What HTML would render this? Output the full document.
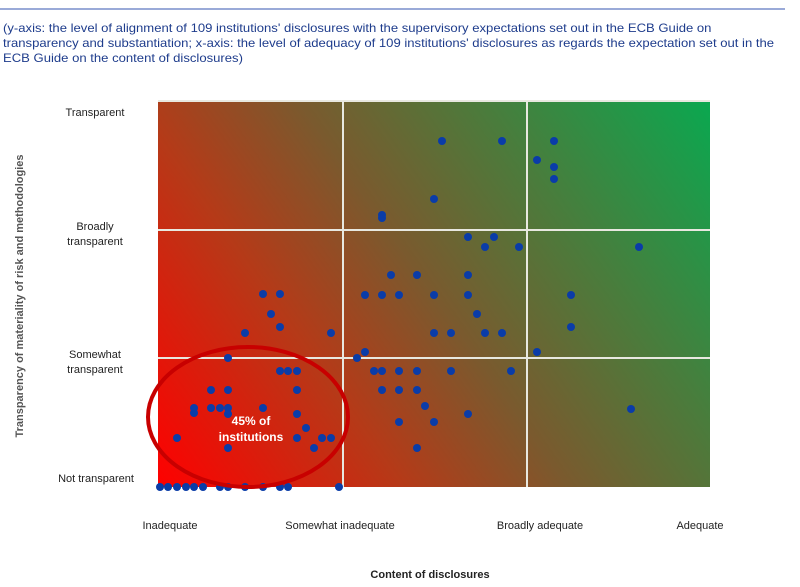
<!DOCTYPE html><html><head><style>
body{margin:0;width:800px;height:587px;background:#fff;font-family:"Liberation Sans",sans-serif;position:relative;overflow:hidden}
.t{position:absolute;font-size:11px;color:#222;text-align:center}
</style></head><body>
<div style="position:absolute;left:0;top:8px;width:785px;height:2px;background:#9aaad8"></div>
<div style="position:absolute;left:3px;top:21px;font-size:12px;line-height:15px;color:#1e3c8c;white-space:nowrap;transform:scaleX(1.09);transform-origin:0 0">(y-axis: the level of alignment of 109 institutions' disclosures with the supervisory expectations set out in the ECB Guide on<br>transparency and substantiation; x-axis: the level of adequacy of 109 institutions' disclosures as regards the expectation set out in the<br>ECB Guide on the content of disclosures)</div>
<div class="t" style="left:40px;top:107px;width:110px">Transparent</div>
<div class="t" style="left:40px;top:220px;width:110px;line-height:15px">Broadly<br>transparent</div>
<div class="t" style="left:40px;top:348px;width:110px;line-height:15px">Somewhat<br>transparent</div>
<div class="t" style="left:36px;top:473px;width:120px">Not transparent</div>
<div class="t" style="left:110px;top:520px;width:120px">Inadequate</div>
<div class="t" style="left:270px;top:520px;width:140px">Somewhat inadequate</div>
<div class="t" style="left:470px;top:520px;width:140px">Broadly adequate</div>
<div class="t" style="left:650px;top:520px;width:100px">Adequate</div>
<div class="t" style="left:330px;top:569px;width:200px;font-weight:bold">Content of disclosures</div>
<div style="position:absolute;left:-130px;top:290px;width:300px;transform:rotate(-90deg);font-size:11px;font-weight:bold;color:#555;text-align:center">Transparency of materiality of risk and methodologies</div>
<svg width="800" height="587" style="position:absolute;left:0;top:0">
<defs><linearGradient id="g" gradientUnits="userSpaceOnUse" x1="158" y1="487" x2="710" y2="100">
<stop offset="0" stop-color="#ff0000"/><stop offset="0.3" stop-color="#b53a18"/><stop offset="0.5" stop-color="#7a5a2e"/><stop offset="0.72" stop-color="#4a7c3c"/><stop offset="1" stop-color="#0aa850"/></linearGradient></defs>
<rect x="158" y="100" width="552" height="387" fill="url(#g)"/>
<g stroke="#e8e8e0" stroke-width="2"><line x1="158" y1="101" x2="710" y2="101"/><line x1="158" y1="230" x2="710" y2="230"/><line x1="158" y1="358" x2="710" y2="358"/><line x1="343" y1="100" x2="343" y2="487"/><line x1="527" y1="100" x2="527" y2="487"/></g>
<g fill="#0a3ca8">
<circle cx="442" cy="141" r="4"/><circle cx="502" cy="141" r="4"/><circle cx="554" cy="141" r="4"/><circle cx="537" cy="160" r="4"/><circle cx="554" cy="167" r="4"/><circle cx="554" cy="179" r="4"/><circle cx="434" cy="199" r="4"/><circle cx="382" cy="215" r="4"/><circle cx="382" cy="218" r="4"/>
<circle cx="468" cy="237" r="4"/><circle cx="494" cy="237" r="4"/><circle cx="485" cy="247" r="4"/><circle cx="519" cy="247" r="4"/><circle cx="639" cy="247" r="4"/>
<circle cx="391" cy="275" r="4"/><circle cx="417" cy="275" r="4"/><circle cx="468" cy="275" r="4"/>
<circle cx="365" cy="295" r="4"/><circle cx="382" cy="295" r="4"/><circle cx="399" cy="295" r="4"/><circle cx="434" cy="295" r="4"/><circle cx="468" cy="295" r="4"/><circle cx="571" cy="295" r="4"/>
<circle cx="477" cy="314" r="4"/><circle cx="434" cy="333" r="4"/><circle cx="451" cy="333" r="4"/><circle cx="485" cy="333" r="4"/><circle cx="502" cy="333" r="4"/><circle cx="571" cy="327" r="4"/>
<circle cx="365" cy="352" r="4"/><circle cx="357" cy="358" r="4"/><circle cx="537" cy="352" r="4"/>
<circle cx="374" cy="371" r="4"/><circle cx="382" cy="371" r="4"/><circle cx="399" cy="371" r="4"/><circle cx="417" cy="371" r="4"/><circle cx="451" cy="371" r="4"/><circle cx="511" cy="371" r="4"/>
<circle cx="382" cy="390" r="4"/><circle cx="399" cy="390" r="4"/><circle cx="417" cy="390" r="4"/>
<circle cx="425" cy="406" r="4"/><circle cx="631" cy="409" r="4"/><circle cx="468" cy="414" r="4"/><circle cx="399" cy="422" r="4"/><circle cx="434" cy="422" r="4"/><circle cx="417" cy="448" r="4"/>
<circle cx="263" cy="294" r="4"/><circle cx="280" cy="294" r="4"/><circle cx="271" cy="314" r="4"/><circle cx="280" cy="327" r="4"/><circle cx="245" cy="333" r="4"/><circle cx="331" cy="333" r="4"/>
<circle cx="228" cy="358" r="4"/><circle cx="280" cy="371" r="4"/><circle cx="288" cy="371" r="4"/><circle cx="297" cy="371" r="4"/>
<circle cx="211" cy="390" r="4"/><circle cx="228" cy="390" r="4"/><circle cx="297" cy="390" r="4"/>
<circle cx="194" cy="408" r="4"/><circle cx="194" cy="413" r="4"/><circle cx="211" cy="408" r="4"/><circle cx="220" cy="408" r="4"/><circle cx="228" cy="408" r="4"/><circle cx="228" cy="414" r="4"/><circle cx="263" cy="408" r="4"/><circle cx="297" cy="414" r="4"/>
<circle cx="177" cy="438" r="4"/><circle cx="228" cy="448" r="4"/><circle cx="297" cy="438" r="4"/><circle cx="306" cy="428" r="4"/><circle cx="314" cy="448" r="4"/><circle cx="322" cy="438" r="4"/><circle cx="331" cy="438" r="4"/>
<circle cx="160" cy="487" r="4"/><circle cx="168" cy="487" r="4"/><circle cx="177" cy="487" r="4"/><circle cx="186" cy="487" r="4"/><circle cx="194" cy="487" r="4"/><circle cx="203" cy="487" r="4"/><circle cx="220" cy="487" r="4"/><circle cx="228" cy="487" r="4"/><circle cx="245" cy="487" r="4"/><circle cx="263" cy="487" r="4"/><circle cx="280" cy="487" r="4"/><circle cx="288" cy="487" r="4"/><circle cx="339" cy="487" r="4"/>
</g>
<ellipse cx="248" cy="417" rx="100" ry="70" fill="none" stroke="#c80000" stroke-width="4"/>
<text x="251" y="425" text-anchor="middle" font-family="Liberation Sans" font-size="12" font-weight="bold" fill="#fff">45% of</text>
<text x="251" y="441" text-anchor="middle" font-family="Liberation Sans" font-size="12" font-weight="bold" fill="#fff">institutions</text>
</svg>
</body></html>
